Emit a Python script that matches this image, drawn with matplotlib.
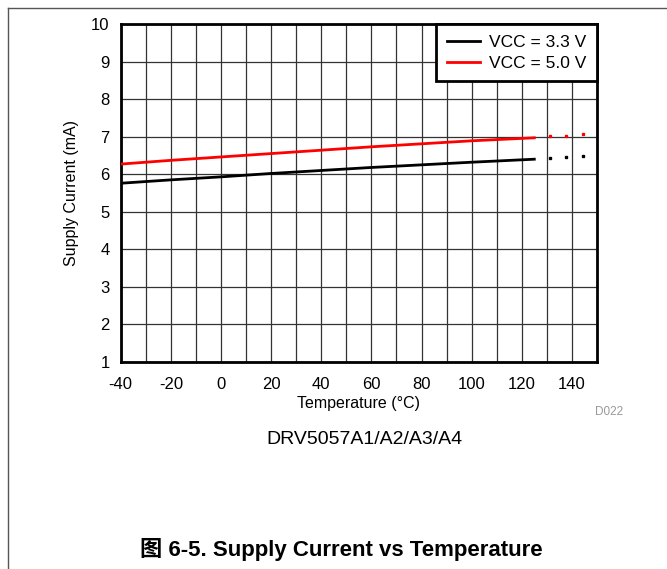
import matplotlib
matplotlib.use("Agg")
import matplotlib.pyplot as plt
from matplotlib.lines import Line2D

plt.rcParams["font.family"] = ["Liberation Sans", "Noto Sans CJK SC", "DejaVu Sans"]
plt.rcParams["axes.unicode_minus"] = False

# ── Data ──────────────────────────────────────────────────
temp      = [-40, -20, 0, 20, 40, 60, 80, 100, 125]
i_vcc33   = [5.76, 5.85, 5.93, 6.02, 6.10, 6.18, 6.25, 6.32, 6.40]
i_vcc50   = [6.27, 6.37, 6.46, 6.55, 6.64, 6.73, 6.81, 6.89, 6.97]

# dotted extrapolation beyond 125 °C
ext_temp  = [131.3, 137.8, 144.5]
ext_vcc33 = [6.44, 6.45, 6.48]
ext_vcc50 = [7.02, 7.03, 7.06]

xticks = [-40, -20, 0, 20, 40, 60, 80, 100, 120, 140]
yticks = [1, 2, 3, 4, 5, 6, 7, 8, 9, 10]

BLACK = "#000000"
RED   = "#ff0000"

fig = plt.figure(figsize=(6.67, 5.69), dpi=100)
ax = fig.add_axes([0.181, 0.3638, 0.714, 0.594])

ax.plot(temp, i_vcc33, color=BLACK, linewidth=2, label="VCC = 3.3 V", zorder=3)
ax.plot(temp, i_vcc50, color=RED, linewidth=2, label="VCC = 5.0 V", zorder=3)
ax.plot(ext_temp, ext_vcc33, "s", color=BLACK, markersize=2.0, zorder=3)
ax.plot(ext_temp, ext_vcc50, "s", color=RED, markersize=2.0, zorder=3)

ax.set_xlim(-40, 150)
ax.set_ylim(1, 10)
ax.set_xticks(xticks)
ax.set_xticks(range(-30, 150, 20), minor=True)
ax.set_yticks(yticks)
ax.tick_params(which="both", length=0, labelsize=12)
ax.tick_params(axis="x", pad=11)
ax.tick_params(axis="y", pad=8)
ax.grid(True, which="both", color="#333333", linewidth=0.9)
ax.set_axisbelow(True)
for s in ax.spines.values():
    s.set_linewidth(2)

ax.set_xlabel("Temperature (°C)", fontsize=11.5, labelpad=3)
ax.set_ylabel("Supply Current (mA)", fontsize=11.5, labelpad=9)

leg = ax.legend(loc="upper right", fontsize=12.5, borderaxespad=0, fancybox=False,
                framealpha=1, edgecolor="black", handlelength=1.9,
                labelspacing=0.32, borderpad=0.62, handletextpad=0.5)
leg.get_frame().set_linewidth(2)

fig.text(0.934, 0.276, "D022", fontsize=8.5, color="#999999", ha="right", va="center")
fig.text(0.546, 0.227, "DRV5057A1/A2/A3/A4", fontsize=14, ha="center", va="center")
fig.text(0.511, 0.035, "图 6-5. Supply Current vs Temperature", fontsize=16,
         fontweight="bold", ha="center", va="center")

# page border lines
fig.add_artist(Line2D([0.012, 1.0], [0.986, 0.986], color="#555555", linewidth=1))
fig.add_artist(Line2D([0.012, 0.012], [0.0, 0.986], color="#555555", linewidth=1))

fig.savefig("out.png", dpi=100)
